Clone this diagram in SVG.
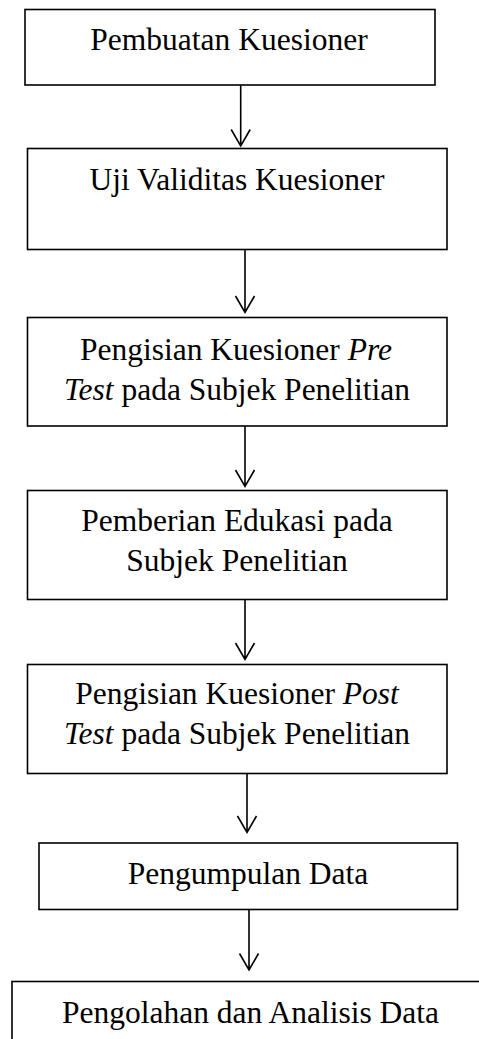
<svg xmlns="http://www.w3.org/2000/svg" width="479" height="1039" viewBox="0 0 479 1039">
<style>
.box{fill:#fff;stroke:#000;stroke-width:1.6}
.t{font-family:"Liberation Serif","Times New Roman",serif;font-size:31.5px;fill:#000;text-anchor:middle}
.i{font-style:italic}
.c{fill:none;stroke:#000;stroke-width:1.6}
</style>
<rect width="479" height="1039" fill="#fff"/>
<g id="connectors">
<path class="c" d="M240.7 85.5V146M231.2 129.5L240.7 146L250.2 129.5"/>
<path class="c" d="M245 249.5V312.5M235.5 296L245 312.5L254.5 296"/>
<path class="c" d="M245 426V486.5M235.5 470L245 486.5L254.5 470"/>
<path class="c" d="M245 599.5V659.5M235.5 643L245 659.5L254.5 643"/>
<path class="c" d="M247 773.5V832.5M237.5 816L247 832.5L256.5 816"/>
<path class="c" d="M249 909.5V970M239.5 953.5L249 970L258.5 953.5"/>
</g>
<g id="n1"><rect class="box" x="25" y="9.5" width="410" height="75.5"/><text class="t" x="229" y="50">Pembuatan Kuesioner</text></g>
<g id="n2"><rect class="box" x="27.5" y="148.5" width="419.5" height="101"/><text class="t" x="237" y="189.5">Uji Validitas Kuesioner</text></g>
<g id="n3"><rect class="box" x="27.5" y="317.5" width="419.5" height="108.5"/><text class="t" x="236" y="359.5">Pengisian Kuesioner <tspan class="i">Pre</tspan></text><text class="t" x="237" y="399.5"><tspan class="i">Test</tspan> pada Subjek Penelitian</text></g>
<g id="n4"><rect class="box" x="27.5" y="490.5" width="419.5" height="109"/><text class="t" x="237" y="530.5">Pemberian Edukasi pada</text><text class="t" x="237" y="570.5">Subjek Penelitian</text></g>
<g id="n5"><rect class="box" x="27.5" y="664.5" width="419.5" height="109"/><text class="t" x="237" y="704">Pengisian Kuesioner <tspan class="i">Post</tspan></text><text class="t" x="237" y="744"><tspan class="i">Test</tspan> pada Subjek Penelitian</text></g>
<g id="n6"><rect class="box" x="39" y="843" width="418.5" height="66.5"/><text class="t" x="248" y="883.5">Pengumpulan Data</text></g>
<g id="n7"><rect class="box" x="12" y="981.5" width="480" height="80"/><text class="t" x="250.5" y="1022.5">Pengolahan dan Analisis Data</text></g>
</svg>
